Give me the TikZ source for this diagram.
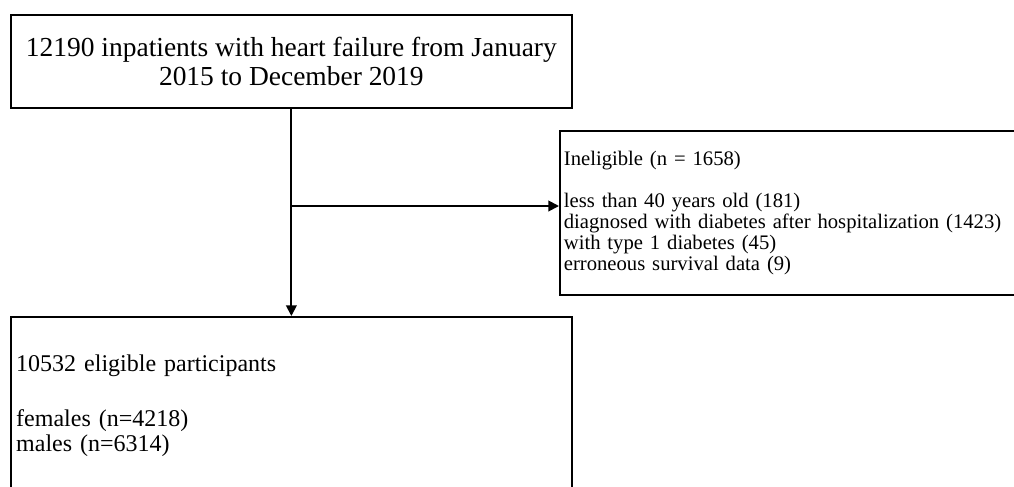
\documentclass[tikz,border=0pt]{standalone}
\usepackage{fontspec}
\setmainfont{Liberation Serif}
\usetikzlibrary{arrows.meta}
\begin{document}
\begin{tikzpicture}[x=0.75pt,y=-0.75pt,
  flowbox/.style={draw,line width=1.3pt,rectangle,anchor=north west,inner ysep=0pt},
  flowarrow/.style={line width=1.4pt,-{Triangle[length=8pt,width=8pt]}}]
  \useasboundingbox (0,0) rectangle (1014,486);
  \node [flowbox,minimum width=420.75pt,minimum height=69.75pt,align=center,
    font=\fontsize{20.6}{21.5}\selectfont] (cohort) at (10,14)
    {12190 inpatients with heart failure from January\\2015 to December 2019};
  \node [flowbox,minimum width=353.25pt,minimum height=123pt,inner xsep=3pt,
    text width=347.25pt,align=left,font=\fontsize{15.5}{15.75}\selectfont] (excluded) at (559,130)
    {Ineligible (n = 1658)\\[15.75pt]
     less than 40 years old (181)\\
     diagnosed with diabetes after hospitalization (1423)\\
     with type 1 diabetes (45)\\
     erroneous survival data (9)};
  \node [flowbox,minimum width=420.75pt,minimum height=133.5pt,inner xsep=4pt,
    text width=412.75pt,align=left,font=\fontsize{18}{19}\selectfont] (eligible) at (10,316)
    {10532 eligible participants\\[22pt]
     females (n=4218)\\
     males (n=6314)};
  \coordinate (branch) at (290.5,206);
  \draw [flowarrow] (cohort.south) -- (eligible.north);
  \draw [flowarrow] (branch) -- (branch -| excluded.west);
\end{tikzpicture}
\end{document}
